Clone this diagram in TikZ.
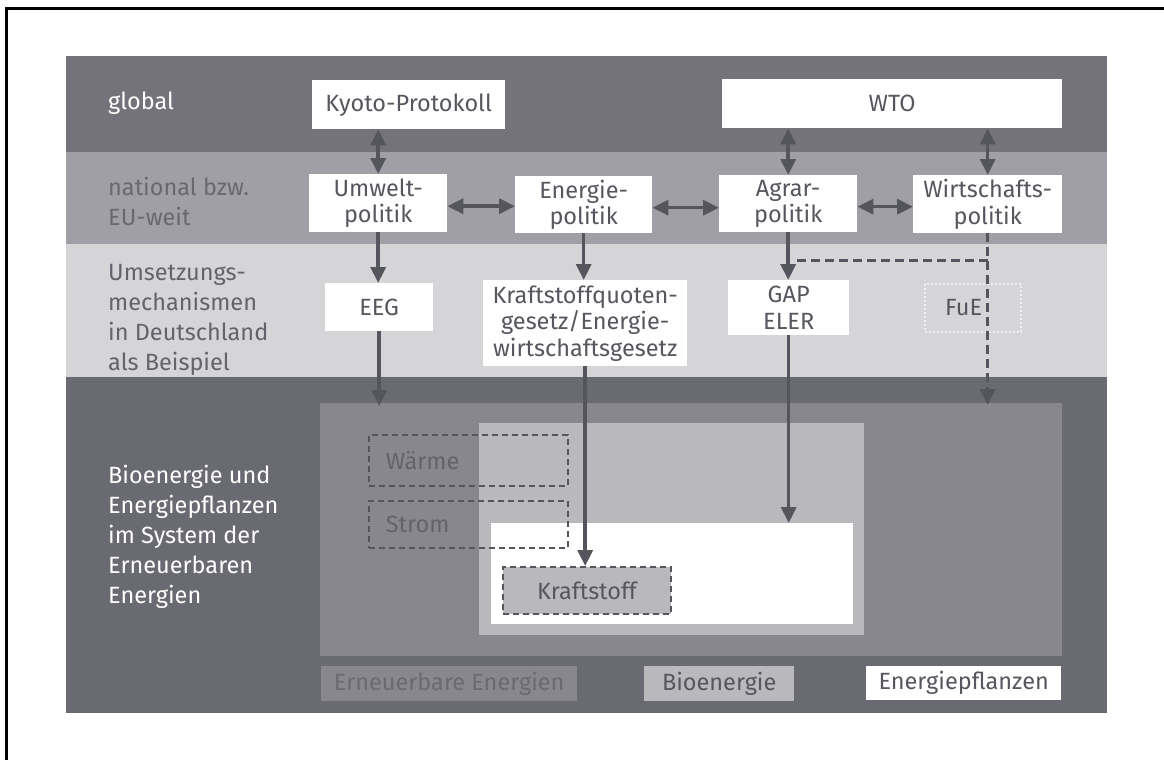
\documentclass[tikz,border=0pt]{standalone}
\usepackage{fontspec}
\IfFontExistsTF{Fira Sans Book}{\setmainfont{Fira Sans Book}}{\setmainfont{Fira Sans}}
\usetikzlibrary{arrows.meta}
\definecolor{bandA}{HTML}{74737B}
\definecolor{bandB}{HTML}{A09FA5}
\definecolor{bandC}{HTML}{D5D4D7}
\definecolor{bandD}{HTML}{6A6A73}
\definecolor{ee}{HTML}{88878D}
\definecolor{bio}{HTML}{B9B8BD}
\definecolor{arr}{HTML}{55555E}
\definecolor{txt}{HTML}{57565E}
\definecolor{natxt}{HTML}{69686F}
\definecolor{umtxt}{HTML}{64636B}
\definecolor{eetxt}{HTML}{6B6A71}
\definecolor{fueline}{HTML}{EDEDEF}
\begin{document}
\begin{tikzpicture}[x=1pt,y=-1pt,
  lbl/.style={anchor=west, align=left, inner sep=0pt, font=\fontsize{23.5}{30}\selectfont},
  wbox/.style={anchor=north west, fill=white, inner sep=0pt, align=center, text=txt,
    font=\fontsize{23.5}{26.5}\selectfont},
  area/.style={anchor=north west, inner sep=0pt},
  tipA/.tip={Triangle[width=15pt,length=16pt]},
  conn/.style={draw=arr, line width=3.5pt, -tipA},
  dconn/.style={draw=arr, line width=3.5pt, tipA-tipA},
  dashconn/.style={draw=arr, line width=3.5pt, dash pattern=on 9pt off 5pt},
  dbox/.style={anchor=north west, draw=arr, line width=1.8pt, dash pattern=on 6pt off 4pt,
    inner sep=0pt, font=\fontsize{23.5}{26.5}\selectfont},
  lg/.style={anchor=north west, inner sep=0pt, align=center, font=\fontsize{23.5}{26.5}\selectfont}
]
\useasboundingbox (0,0) rectangle (1164,760);
% frame
\draw[line width=3pt, black] (1164,9) -- (6.5,9) -- (6.5,760);
% bands
\fill[bandA] (66,56) rectangle (1107,152);
\fill[bandB] (66,152) rectangle (1107,244);
\fill[bandC] (66,244) rectangle (1107,377);
\fill[bandD] (66,377) rectangle (1107,713);

% band labels
\node[lbl, text=white] (lglobal) at (108,103) {global};
\node[lbl, text=natxt] (lnational) at (108,201) {national bzw.\\EU-weit};
\node[lbl, text=umtxt] (lumsetz) at (108,320) {Umsetzungs-\\mechanismen\\in Deutschland\\als Beispiel};
\node[lbl, text=white] (lbio) at (108,537) {Bioenergie und\\Energiepflanzen\\im System der\\Erneuerbaren\\Energien};

% top boxes
\node[wbox, minimum width=193pt, minimum height=49pt] (kyoto) at (312,80) {Kyoto-Protokoll};
\node[wbox, minimum width=340pt, minimum height=49pt] (wto) at (722,79) {WTO};
\node[wbox, minimum width=138pt, minimum height=58pt] (umwelt) at (309,174) {Umwelt-\\politik};
\node[wbox, minimum width=137pt, minimum height=57pt] (energie) at (515,176) {Energie-\\politik};
\node[wbox, minimum width=138pt, minimum height=57pt] (agrar) at (719,175) {Agrar-\\politik};
\node[wbox, minimum width=149pt, minimum height=58pt] (wirt) at (913,175) {Wirtschafts-\\politik};
\node[wbox, minimum width=108pt, minimum height=48pt] (eeg) at (325,283) {EEG};
\node[wbox, minimum width=204pt, minimum height=86pt] (kq) at (483,280) {Kraftstoffquoten-\\gesetz/Energie-\\wirtschaftsgesetz};
\node[wbox, minimum width=121pt, minimum height=55pt] (gap) at (728,280) {GAP\\ELER};
\node[wbox, fill=none, draw=fueline, line width=1.5pt, dash pattern=on 2pt off 2pt,
  minimum width=96pt, minimum height=48pt] (fuebox) at (924,283) {};
\node[wbox, fill=none, anchor=west] (fue) at ([xshift=21pt]fuebox.west) {FuE};

% system areas
\node[area, fill=ee, minimum width=742pt, minimum height=253pt] (inner) at (320,403) {};
\node[area, fill=bio, minimum width=385pt, minimum height=212pt] (bioarea) at (479,423) {};
\node[area, fill=white, minimum width=362pt, minimum height=101pt] (ep) at (491,523) {};
\node[dbox, text=umtxt, align=left, inner xsep=17pt, text width=165pt, minimum height=51pt] (waerme) at (368,434) {Wärme};
\node[dbox, text=umtxt, align=left, inner xsep=17pt, text width=165pt, minimum height=47pt] (strom) at (368,500) {Strom};
\node[dbox, fill=bio, text=txt, align=center, minimum width=168pt, minimum height=47pt] (kraft) at (502,566) {Kraftstoff};

% legend
\node[lg, fill=ee, text=eetxt, minimum width=256pt, minimum height=35pt] (legee) at (321,666) {Erneuerbare Energien};
\node[lg, fill=bio, text=txt, minimum width=150pt, minimum height=35pt] (legbio) at (644,666) {Bioenergie};
\node[lg, fill=white, text=txt, minimum width=195pt, minimum height=34pt] (legep) at (866,666) {Energiepflanzen};

% connectors
\draw[dconn] (umwelt.north) -- (umwelt.north |- kyoto.south);
\draw[dconn] (agrar.north) -- (agrar.north |- wto.south);
\draw[dconn] (wirt.north) -- (wirt.north |- wto.south);
\draw[dconn] ([yshift=-3pt]umwelt.east) -- ([yshift=-3pt]umwelt.east -| energie.west);
\draw[dconn] ([yshift=-3pt]energie.east) -- ([yshift=-3pt]energie.east -| agrar.west);
\draw[dconn] ([yshift=-3pt]agrar.east) -- ([yshift=-3pt]agrar.east -| wirt.west);
\draw[conn] (umwelt.south) -- (umwelt.south |- eeg.north);
\draw[conn] (energie.south) -- (energie.south |- kq.north);
\draw[conn] (agrar.south) -- (agrar.south |- gap.north);
\draw[conn] (eeg.south) -- ([yshift=-3pt]eeg.south |- inner.north);
\draw[conn] (kq.south) -- (kq.south |- kraft.north);
\draw[conn] (gap.south) -- (gap.south |- ep.north);
\coordinate (brk) at ([yshift=-27pt]wirt.south);
\draw[dashconn, -tipA] (wirt.south) -- ([yshift=-2pt]wirt.south |- inner.north);
\draw[dashconn] (brk) -- ([xshift=9pt]brk -| agrar.south);
\end{tikzpicture}
\end{document}
